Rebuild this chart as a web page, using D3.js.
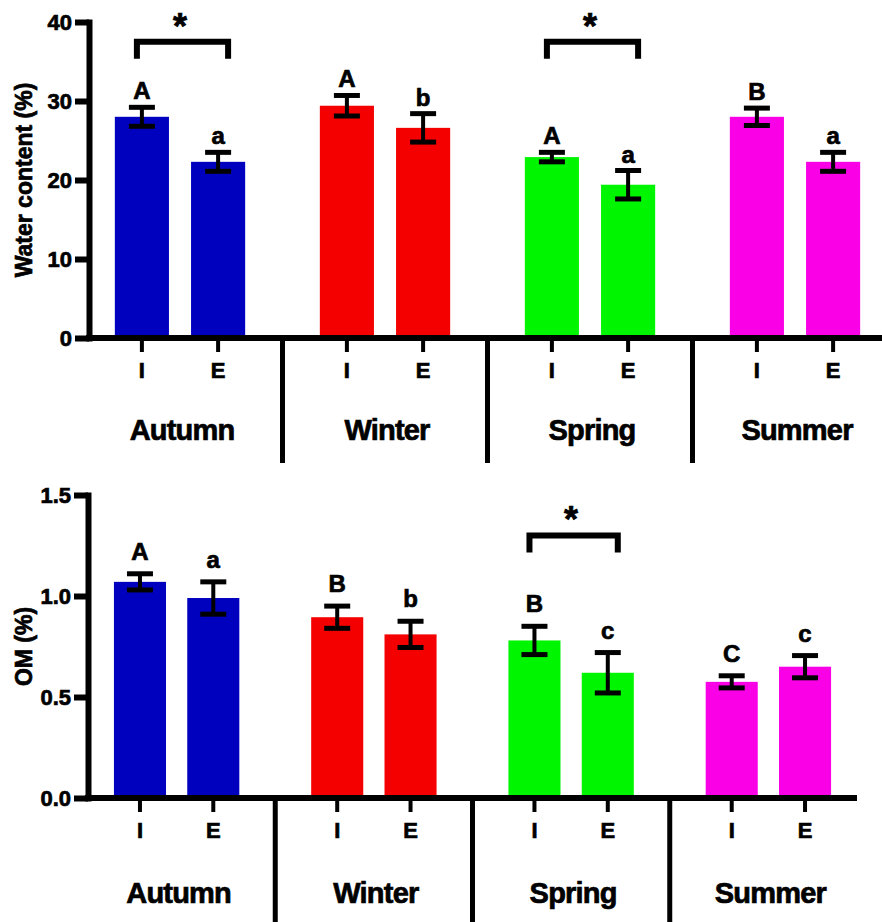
<!DOCTYPE html>
<html>
<head>
<meta charset="utf-8">
<script src="https://cdn.jsdelivr.net/npm/d3@7"></script>
<style>
  body { margin: 0; background: #fff; }
  text { font-family: "Liberation Sans", Arial, sans-serif; font-weight: bold; fill: #000;
         stroke: #000; stroke-width: 0.7px; }
</style>
</head>
<body>
<svg width="882" height="922"></svg>
<script>
// data
var seasons      = ['Autumn', 'Winter', 'Spring', 'Summer'],
    sites        = ['I', 'E'],
    seasonColors = ['#0000bf', '#f50000', '#00f500', '#fa00e6'],
    waterMean    = [28.0, 22.3, 29.4, 26.6, 22.9, 19.4, 28.0, 22.3],
    waterErr     = [1.2, 1.2, 1.3, 1.8, 0.6, 1.8, 1.1, 1.2],
    waterLetters = ['A', 'a', 'A', 'b', 'A', 'a', 'B', 'a'],
    waterSig     = ['Autumn', 'Spring'],
    waterTicks   = [0, 10, 20, 30, 40],
    omMean       = [1.07, 0.99, 0.895, 0.81, 0.78, 0.62, 0.575, 0.65],
    omErr        = [0.04, 0.08, 0.055, 0.065, 0.07, 0.10, 0.03, 0.055],
    omLetters    = ['A', 'a', 'B', 'b', 'B', 'c', 'C', 'c'],
    omSig        = ['Spring'],
    omTicks      = [0, 0.5, 1.0, 1.5];

var svg = d3.select('svg');

var panels = [
  { means: waterMean, errs: waterErr, letters: waterLetters, sig: waterSig,
    ticks: waterTicks, fmt: d3.format('d'), domain: [0, 40], label: 'Water content (%)',
    yTop: 22, yBase: 338, xAxis: 89, xRange: [77.5, 897.5], axisEnd: 890,
    sepBottom: 463, sigLevel: 37.5, letterGap: 8, siteY: 378, seasonY: 440 },
  { means: omMean, errs: omErr, letters: omLetters, sig: omSig,
    ticks: omTicks, fmt: d3.format('.1f'), domain: [0, 1.5], label: 'OM (%)',
    yTop: 495, yBase: 798, xAxis: 88, xRange: [78, 867], axisEnd: 857,
    sepBottom: 925, sigLevel: 1.30, letterGap: 14, siteY: 838, seasonY: 903 }
];

panels.forEach(drawPanel);

function drawPanel(p) {
  var y = d3.scaleLinear().domain(p.domain).range([p.yBase, p.yTop]);
  var outer = d3.scaleBand().domain(seasons).range(p.xRange);
  var inner = d3.scaleBand().domain(sites).range([0, outer.bandwidth()])
    .paddingInner(0.29).paddingOuter(0.49);
  var bw = inner.bandwidth();

  var rows = p.means.map(function(m, i) {
    return { season: seasons[Math.floor(i / 2)], site: sites[i % 2], mean: m,
             err: p.errs[i], letter: p.letters[i], color: seasonColors[Math.floor(i / 2)] };
  });
  function cx(d) { return outer(d.season) + inner(d.site) + bw / 2; }

  var g = svg.append('g');

  // bars
  g.selectAll('rect.bar').data(rows).enter().append('rect')
    .attr('class', 'bar')
    .attr('x', function(d) { return cx(d) - bw / 2; })
    .attr('width', bw)
    .attr('y', function(d) { return y(d.mean); })
    .attr('height', function(d) { return y(0) - y(d.mean); })
    .attr('fill', function(d) { return d.color; });

  // error bars
  var eb = g.selectAll('g.err').data(rows).enter().append('g').attr('class', 'err')
    .attr('stroke', '#000');
  eb.append('line')
    .attr('stroke-width', 4)
    .attr('x1', cx).attr('x2', cx)
    .attr('y1', function(d) { return y(d.mean + d.err); })
    .attr('y2', function(d) { return y(d.mean - d.err); });
  [1, -1].forEach(function(s) {
    eb.append('line')
      .attr('stroke-width', 5)
      .attr('x1', function(d) { return cx(d) - 13; })
      .attr('x2', function(d) { return cx(d) + 13; })
      .attr('y1', function(d) { return y(d.mean + s * d.err); })
      .attr('y2', function(d) { return y(d.mean + s * d.err); });
  });

  // group letters
  g.selectAll('text.letter').data(rows).enter().append('text')
    .attr('class', 'letter')
    .attr('x', cx)
    .attr('y', function(d) { return y(d.mean + d.err) - p.letterGap; })
    .attr('text-anchor', 'middle')
    .style('font-size', '24px')
    .text(function(d) { return d.letter; });

  // y axis
  var yAxis = g.append('g')
    .attr('transform', 'translate(' + p.xAxis + ',0)')
    .call(d3.axisLeft(y).tickValues(p.ticks).tickFormat(p.fmt)
      .tickSize(14).tickSizeOuter(0).tickPadding(3));
  yAxis.select('.domain').attr('stroke-width', 6).attr('stroke-linecap', 'square');
  yAxis.selectAll('.tick line').attr('stroke-width', 6);
  yAxis.selectAll('.tick text').style('font-size', '22px').attr('fill', '#000');

  g.append('text')
    .attr('transform', 'translate(32,' + (p.yTop + p.yBase) / 2 + ') rotate(-90)')
    .attr('text-anchor', 'middle')
    .style('font-size', '23px')
    .text(p.label);

  // x axis baseline, ticks, separators
  g.append('line')
    .attr('x1', p.xAxis - 3).attr('x2', p.axisEnd)
    .attr('y1', y(0)).attr('y2', y(0))
    .attr('stroke', '#000').attr('stroke-width', 6);

  g.selectAll('line.xtick').data(rows).enter().append('line')
    .attr('class', 'xtick')
    .attr('x1', cx).attr('x2', cx)
    .attr('y1', y(0)).attr('y2', y(0) + 14)
    .attr('stroke', '#000').attr('stroke-width', 4);

  g.selectAll('text.site').data(rows).enter().append('text')
    .attr('class', 'site')
    .attr('x', cx).attr('y', p.siteY)
    .attr('text-anchor', 'middle')
    .style('font-size', '22px')
    .text(function(d) { return d.site; });

  g.selectAll('line.sep').data(seasons.slice(1)).enter().append('line')
    .attr('class', 'sep')
    .attr('x1', function(d) { return outer(d); })
    .attr('x2', function(d) { return outer(d); })
    .attr('y1', y(0)).attr('y2', p.sepBottom)
    .attr('stroke', '#000').attr('stroke-width', 5);

  g.selectAll('text.season').data(seasons).enter().append('text')
    .attr('class', 'season')
    .attr('x', function(d) { return outer(d) + outer.bandwidth() / 2 + 2; })
    .attr('y', p.seasonY)
    .attr('text-anchor', 'middle')
    .style('font-size', '29px')
    .style('letter-spacing', '-0.8px')
    .text(function(d) { return d; });

  // significance brackets
  var by = y(p.sigLevel);
  var br = g.selectAll('g.sig').data(p.sig).enter().append('g').attr('class', 'sig');
  br.append('path')
    .attr('d', function(s) {
      var x1 = outer(s) + inner('I') + bw / 2 - 5,
          x2 = outer(s) + inner('E') + bw / 2 + 10;
      return d3.line()([[x1, by + 17], [x1, by], [x2, by], [x2, by + 17]]);
    })
    .attr('fill', 'none').attr('stroke', '#000').attr('stroke-width', 6);
  br.append('text')
    .attr('x', function(s) { return outer(s) + outer.bandwidth() / 2; })
    .attr('y', by - 3)
    .attr('text-anchor', 'middle')
    .style('font-size', '36px')
    .text('*');
}
</script>
</body>
</html>
